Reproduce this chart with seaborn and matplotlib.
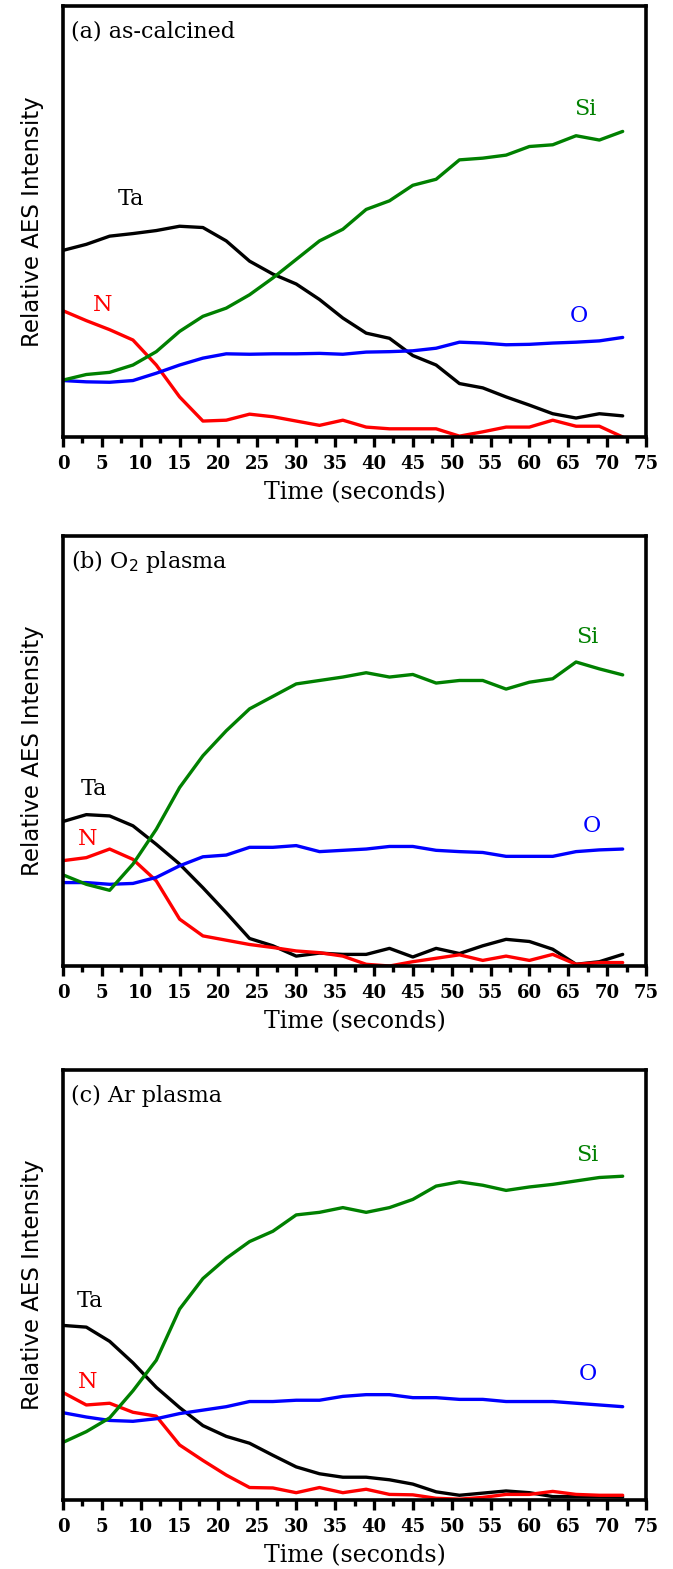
import numpy as np
import pandas as pd
import matplotlib
matplotlib.use("Agg")
import matplotlib.pyplot as plt
from matplotlib.ticker import MultipleLocator, NullLocator
import seaborn as sns

# ---------------- data (relative AES intensity, arbitrary units 0-100) ----------------
time_s = [0, 3, 6, 9, 12, 15, 18, 21, 24, 27, 30, 33, 36, 39, 42, 45, 48, 51, 54, 57, 60, 63, 66, 69, 72]

a_Si = [13.2, 14.5, 15.0, 16.7, 19.8, 24.5, 28.0, 29.9, 33.0, 36.9, 41.2, 45.5, 48.2, 52.8, 54.8, 58.4, 59.8, 64.3, 64.7, 65.4, 67.4, 67.8, 69.9, 68.9, 70.9]
a_Ta = [43.3, 44.7, 46.6, 47.2, 47.9, 48.9, 48.6, 45.5, 40.8, 37.8, 35.5, 31.9, 27.6, 24.1, 22.9, 18.9, 16.7, 12.4, 11.4, 9.3, 7.4, 5.4, 4.4, 5.4, 4.9]
a_N = [29.3, 27.0, 24.9, 22.5, 16.7, 9.3, 3.7, 3.9, 5.3, 4.7, 3.7, 2.7, 3.9, 2.3, 1.9, 1.9, 1.9, 0.2, 1.2, 2.3, 2.3, 3.9, 2.5, 2.5, 0.0]
a_O = [13.1, 12.8, 12.7, 13.1, 14.8, 16.7, 18.3, 19.3, 19.2, 19.3, 19.3, 19.4, 19.2, 19.7, 19.8, 20.0, 20.6, 22.0, 21.8, 21.4, 21.5, 21.8, 22.0, 22.3, 23.1]

b_Si = [21.2, 19.0, 17.6, 23.7, 31.8, 41.5, 48.9, 54.7, 59.8, 62.7, 65.6, 66.4, 67.2, 68.2, 67.2, 67.8, 65.8, 66.4, 66.4, 64.4, 66.0, 66.8, 70.7, 69.1, 67.7]
b_Ta = [33.6, 35.2, 34.9, 32.6, 28.3, 23.7, 18.2, 12.4, 6.4, 4.7, 2.3, 3.0, 2.7, 2.7, 4.1, 2.1, 4.1, 2.9, 4.7, 6.2, 5.7, 3.9, 0.4, 1.0, 2.7]
b_N = [24.5, 25.2, 27.2, 24.8, 19.8, 10.9, 7.0, 6.0, 5.0, 4.3, 3.5, 3.1, 2.3, 0.4, 0.0, 1.0, 1.8, 2.6, 1.3, 2.3, 1.3, 2.7, 0.4, 0.8, 0.8]
b_O = [19.4, 19.4, 19.0, 19.2, 20.6, 23.3, 25.4, 25.8, 27.6, 27.6, 28.0, 26.6, 26.9, 27.2, 27.8, 27.8, 26.9, 26.6, 26.4, 25.5, 25.5, 25.5, 26.6, 27.0, 27.2]

c_Si = [13.4, 15.9, 19.1, 25.4, 32.5, 44.4, 51.5, 56.2, 60.1, 62.5, 66.3, 66.9, 68.0, 66.9, 68.0, 69.9, 73.0, 74.0, 73.2, 72.0, 72.8, 73.4, 74.2, 75.0, 75.3]
c_Ta = [40.6, 40.2, 36.9, 31.9, 26.2, 21.5, 17.3, 14.8, 13.2, 10.4, 7.7, 6.1, 5.3, 5.3, 4.7, 3.7, 1.9, 1.1, 1.6, 2.1, 1.7, 0.8, 0.8, 0.8, 0.7]
c_N = [25.0, 22.1, 22.5, 20.4, 19.5, 12.8, 9.2, 5.8, 2.9, 2.8, 1.7, 2.9, 1.7, 2.5, 1.3, 1.2, 0.4, 0.2, 0.6, 1.3, 1.3, 2.0, 1.3, 1.1, 1.1]
c_O = [20.3, 19.3, 18.5, 18.3, 18.9, 20.1, 20.9, 21.7, 22.9, 22.9, 23.2, 23.2, 24.1, 24.5, 24.5, 23.8, 23.8, 23.4, 23.4, 22.9, 22.9, 22.9, 22.5, 22.1, 21.7]

elements = ["Ta", "N", "O", "Si"]
panel_titles = ["(a) as-calcined", "(b) O$_2$ plasma", "(c) Ar plasma"]
x_ticks = [0, 5, 10, 15, 20, 25, 30, 35, 40, 45, 50, 55, 60, 65, 70, 75]

# label anchor positions (time, intensity) for each element per panel
label_pos = [
    {"Ta": (8.7, 55.2), "N": (5.1, 30.7), "O": (66.4, 28.0), "Si": (67.2, 76.1)},
    {"Ta": (4.0, 41.1), "N": (3.2, 29.5), "O": (68.0, 32.6), "Si": (67.4, 76.5)},
    {"Ta": (3.5, 46.3), "N": (3.2, 27.4), "O": (67.5, 29.4), "Si": (67.4, 80.3)},
]

panels = [
    {"Ta": a_Ta, "N": a_N, "O": a_O, "Si": a_Si},
    {"Ta": b_Ta, "N": b_N, "O": b_O, "Si": b_Si},
    {"Ta": c_Ta, "N": c_N, "O": c_O, "Si": c_Si},
]

colors = {"Ta": "#000000", "N": "#ff0000", "O": "#0000ff", "Si": "#008000"}

# ---------------- figure ----------------
sns.set_style("white")
plt.rcParams["font.family"] = ["DejaVu Serif"]
plt.rcParams["text.color"] = "black"
plt.rcParams["axes.labelcolor"] = "black"
plt.rcParams["xtick.color"] = "black"
plt.rcParams["ytick.color"] = "black"

W, H = 673, 1569
fig = plt.figure(figsize=(W / 100, H / 100), dpi=100)

axes_px = [(6, 437), (536, 966), (1070, 1500)]  # (top, bottom) in pixels
left_px, right_px = 63, 646

for i, (panel, (top, bot)) in enumerate(zip(panels, axes_px)):
    ax = fig.add_axes([left_px / W, 1 - bot / H, (right_px - left_px) / W, (bot - top) / H])
    rows = []
    for el in elements:
        for t, v in zip(time_s, panel[el]):
            rows.append({"Time": t, "Intensity": v, "Element": el})
    df = pd.DataFrame(rows)
    sns.lineplot(data=df, x="Time", y="Intensity", hue="Element", palette=colors,
                 hue_order=elements, linewidth=2.4, legend=False, ax=ax, estimator=None)

    ax.set_xlim(0, 75)
    ax.set_ylim(0, 100)
    ax.set_xticks(x_ticks)
    ax.xaxis.set_minor_locator(MultipleLocator(2.5))
    ax.yaxis.set_major_locator(NullLocator())
    ax.tick_params(axis="x", which="major", direction="out", length=7, width=2.4,
                   labelsize=13, pad=6, bottom=True, top=False, colors="black")
    ax.tick_params(axis="x", which="minor", direction="out", length=4, width=2.4,
                   bottom=True, top=False, colors="black")
    for lab in ax.get_xticklabels():
        lab.set_fontweight("bold")
    for sp in ax.spines.values():
        sp.set_linewidth(2.6)
        sp.set_color("black")

    ax.set_xlabel("Time (seconds)", fontsize=17, labelpad=6, color="black")
    ax.set_ylabel("Relative AES Intensity", fontsize=16.5, family="DejaVu Sans",
                  labelpad=14, color="black")

    ax.text(1.0, 94.0, panel_titles[i], fontsize=16, ha="left", va="center", color="black")
    for el in elements:
        x, y = label_pos[i][el]
        ax.text(x, y, el, color=colors[el], fontsize=16, ha="center", va="center")

fig.savefig("out.png", dpi=100)
